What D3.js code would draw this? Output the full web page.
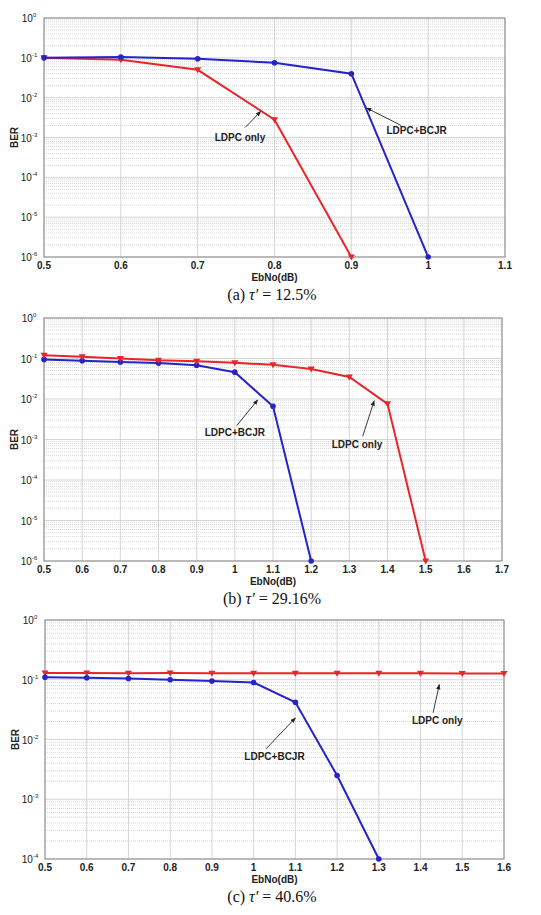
<!DOCTYPE html>
<html><head><meta charset="utf-8">
<script src="https://cdn.jsdelivr.net/npm/d3@7"></script>
<style>
body{margin:0;background:#fff;}
text{font-family:"Liberation Sans",Arial,sans-serif;}
</style></head>
<body><svg id="c" width="541" height="915"></svg>
<script>
'use strict';

// panel (a)
var xA = [0.5, 0.6, 0.7, 0.8, 0.9, 1.0];
var blueA = [0.1, 0.105, 0.095, 0.075, 0.04, 1e-6];
var redA = [0.1, 0.09, 0.05, 0.0028, 1e-6];
var ticksA = [0.5, 0.6, 0.7, 0.8, 0.9, 1, 1.1];
// panel (b)
var xB = [0.5, 0.6, 0.7, 0.8, 0.9, 1.0, 1.1, 1.2, 1.3, 1.4, 1.5];
var blueB = [0.095, 0.088, 0.082, 0.077, 0.068, 0.046, 0.0066, 1e-6];
var redB = [0.12, 0.11, 0.1, 0.09, 0.085, 0.078, 0.07, 0.055, 0.035, 0.0076, 1e-6];
var ticksB = [0.5, 0.6, 0.7, 0.8, 0.9, 1, 1.1, 1.2, 1.3, 1.4, 1.5, 1.6, 1.7];
// panel (c)
var xC = [0.5, 0.6, 0.7, 0.8, 0.9, 1.0, 1.1, 1.2, 1.3, 1.4, 1.5, 1.6];
var blueC = [0.11, 0.108, 0.105, 0.1, 0.095, 0.09, 0.042, 0.0025, 1e-4];
var redC = [0.13, 0.13, 0.128, 0.13, 0.128, 0.128, 0.128, 0.128, 0.128, 0.128, 0.127, 0.127];
var ticksC = [0.5, 0.6, 0.7, 0.8, 0.9, 1, 1.1, 1.2, 1.3, 1.4, 1.5, 1.6];

var panels = [
  {top: 18, bottom: 257, left: 44, right: 505, xd: [0.5, 1.1], ymin: 1e-6, ticks: ticksA,
   x: xA, blue: blueA, red: redA, caption: "12.5%",
   notes: [{t: "LDPC only", at: [0.755, 0.0008], from: [0.762, 0.0018], to: [0.782, 0.0045]},
           {t: "LDPC+BCJR", at: [0.985, 0.0012], from: [0.965, 0.002], to: [0.92, 0.0055]}]},
  {top: 318, bottom: 561, left: 44, right: 502, xd: [0.5, 1.7], ymin: 1e-6, ticks: ticksB,
   x: xB, blue: blueB, red: redB, caption: "29.16%",
   notes: [{t: "LDPC+BCJR", at: [1.0, 0.0012], from: [1.005, 0.0022], to: [1.06, 0.0095]},
           {t: "LDPC only", at: [1.32, 0.0006], from: [1.335, 0.0012], to: [1.365, 0.009]}]},
  {top: 620, bottom: 859, left: 45, right: 504, xd: [0.5, 1.6], ymin: 1e-4, ticks: ticksC,
   x: xC, blue: blueC, red: redC, caption: "40.6%",
   notes: [{t: "LDPC only", at: [1.44, 0.018], from: [1.43, 0.028], to: [1.445, 0.083]},
           {t: "LDPC+BCJR", at: [1.05, 0.0045], from: [1.03, 0.007], to: [1.1, 0.023]}]}
];

var svg = d3.select("#c");
svg.append("defs").append("marker")
  .attr("id", "ah").attr("viewBox", "0 0 10 10").attr("refX", 9).attr("refY", 5)
  .attr("markerWidth", 6).attr("markerHeight", 6).attr("orient", "auto")
  .append("path").attr("d", "M0,1L10,5L0,9Z").attr("fill", "#222");

panels.forEach(function(p, i) {
  var x = d3.scaleLinear().domain(p.xd).range([p.left, p.right]);
  var y = d3.scaleLog().domain([p.ymin, 1]).range([p.bottom, p.top]);
  var g = svg.append("g");
  var dec = Math.round(-Math.log10(p.ymin));

  // minor grid
  var minors = [];
  for (var e = -dec; e < 0; e++) for (var m = 2; m < 10; m++) minors.push(m * Math.pow(10, e));
  g.selectAll(".mn").data(minors).join("line")
    .attr("x1", p.left).attr("x2", p.right).attr("y1", d => y(d)).attr("y2", d => y(d))
    .attr("stroke", "#bbb").attr("stroke-width", 0.6).attr("stroke-dasharray", "1,1");
  var majors = d3.range(-dec, 1).map(e => Math.pow(10, e));
  g.selectAll(".mj").data(majors).join("line")
    .attr("x1", p.left).attr("x2", p.right).attr("y1", d => y(d)).attr("y2", d => y(d))
    .attr("stroke", "#ccc").attr("stroke-width", 0.8);
  g.selectAll(".vx").data(p.ticks).join("line")
    .attr("x1", d => x(d)).attr("x2", d => x(d)).attr("y1", p.top).attr("y2", p.bottom)
    .attr("stroke", "#ccc").attr("stroke-width", 0.8);
  g.append("rect").attr("x", p.left).attr("y", p.top).attr("width", p.right - p.left)
    .attr("height", p.bottom - p.top).attr("fill", "none").attr("stroke", "#888");

  // axis labels
  g.selectAll(".xt").data(p.ticks).join("text")
    .attr("x", d => x(d)).attr("y", p.bottom + 12).attr("text-anchor", "middle")
    .attr("font-size", 10).attr("font-weight", "bold").attr("fill", "#222").text(d => d);
  var yt = g.selectAll(".yt").data(d3.range(-dec, 1)).join("text")
    .attr("x", p.left - 15).attr("y", d => y(Math.pow(10, d)) + 4)
    .attr("text-anchor", "middle").attr("font-size", 10).attr("fill", "#222");
  yt.append("tspan").text("10");
  yt.append("tspan").attr("dy", -5).attr("font-size", 6).text(d => d);
  g.append("text").attr("x", (p.left + p.right) / 2).attr("y", p.bottom + 24)
    .attr("text-anchor", "middle").attr("font-size", 10).attr("font-weight", "bold")
    .attr("fill", "#222").text("EbNo(dB)");
  g.append("text").attr("transform", "translate(" + (p.left - 26) + "," + ((p.top + p.bottom) / 2) + ") rotate(-90)")
    .attr("text-anchor", "middle").attr("font-size", 10).attr("font-weight", "bold")
    .attr("fill", "#222").text("BER");

  var line = d3.line().x(d => x(d[0])).y(d => y(d[1]));
  var blue = p.blue.map((v, k) => [p.x[k], v]);
  var red = p.red.map((v, k) => [p.x[k], v]);
  function drawRed() {
    g.append("path").datum(red).attr("d", line).attr("fill", "none")
      .attr("stroke", "#e8262a").attr("stroke-width", 2);
    g.selectAll(".rm" + i).data(red).join("path")
      .attr("transform", d => "translate(" + x(d[0]) + "," + y(d[1]) + ")")
      .attr("d", "M-3.5,-2.5L3.5,-2.5L0,3.5Z").attr("fill", "#e8262a");
  }
  function drawBlue() {
    g.append("path").datum(blue).attr("d", line).attr("fill", "none")
      .attr("stroke", "#2424c8").attr("stroke-width", 2);
    g.selectAll(".bm" + i).data(blue).join("circle")
      .attr("cx", d => x(d[0])).attr("cy", d => y(d[1])).attr("r", 2.8).attr("fill", "#2424c8");
  }
  if (i === 1) { drawBlue(); drawRed(); } else { drawRed(); drawBlue(); }

  p.notes.forEach(function(n) {
    g.append("line").attr("x1", x(n.from[0])).attr("y1", y(n.from[1]))
      .attr("x2", x(n.to[0])).attr("y2", y(n.to[1]))
      .attr("stroke", "#222").attr("stroke-width", 0.9).attr("marker-end", "url(#ah)");
    g.append("text").attr("x", x(n.at[0])).attr("y", y(n.at[1]))
      .attr("text-anchor", "middle").attr("font-size", 10).attr("font-weight", "bold")
      .attr("fill", "#222").text(n.t);
  });

  var cap = g.append("text").attr("x", 272).attr("y", p.bottom + 43).attr("text-anchor", "middle")
    .style("font-family", "'Liberation Serif','Times New Roman',serif").attr("font-size", 16).attr("fill", "#111");
  cap.append("tspan").text("(" + "abc"[i] + ")  ");
  cap.append("tspan").attr("font-style", "italic").text("τ′");
  cap.append("tspan").text("  =  " + p.caption);
});
</script></body></html>
